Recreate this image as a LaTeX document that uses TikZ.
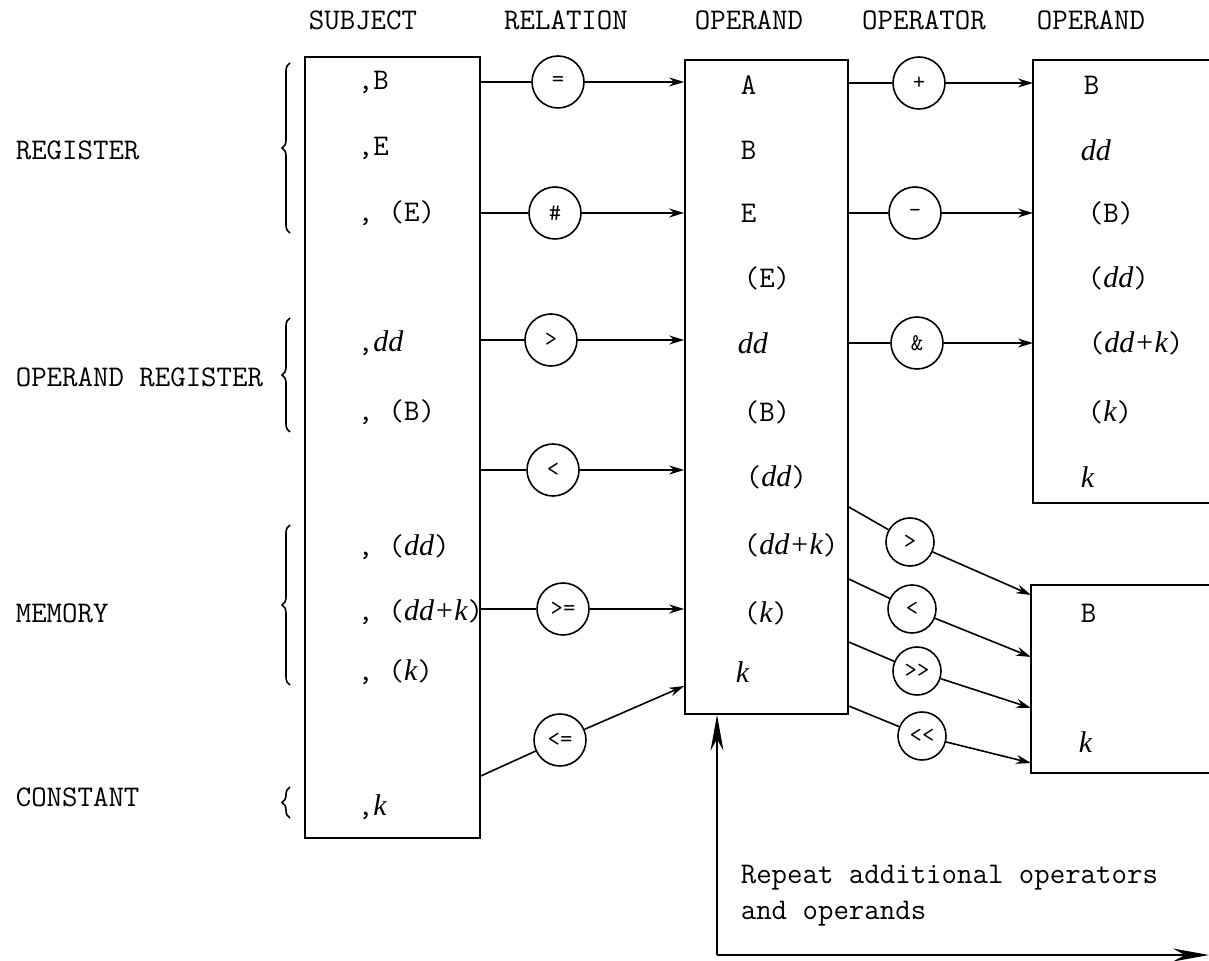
\documentclass[tikz,border=0pt]{standalone}
\usepackage{fontspec}
\newfontfamily\serfont{Liberation Serif}
\usetikzlibrary{arrows.meta,decorations.pathreplacing}
\newcommand{\ivar}[1]{{\serfont\itshape #1}}

\begin{document}
\begin{tikzpicture}[x=0.5pt, y=-0.5pt, line width=0.8pt,
  font=\ttfamily\fontsize{15}{18}\selectfont,
  box/.style={draw, rectangle, inner sep=0pt},
  item/.style={anchor=west, inner sep=0pt},
  hdr/.style={inner sep=0pt},
  rel/.style={circle, draw, fill=white, minimum size=26pt, inner sep=0pt,
              font=\ttfamily\fontsize{12}{14}\selectfont},
  opr/.style={rel, minimum size=24pt},
  flow/.style={-{Stealth[length=7.5pt, width=4.5pt]}},  % into an operand
  back/.style={-{Stealth[length=18pt, width=6.5pt]}},   % repeat loop
  grp/.style={decorate, decoration={brace, amplitude=4pt}},
]
\useasboundingbox (0,0) rectangle (1209,961);

% Column headers
\node[hdr] (h-subj) at (363,20)  {SUBJECT};
\node[hdr] (h-rel)  at (566,20)  {RELATION};
\node[hdr] (h-opd)  at (749,20)  {OPERAND};
\node[hdr] (h-opr)  at (924,20)  {OPERATOR};
\node[hdr] (h-opd2) at (1091,20) {OPERAND};

% Boxes
\node[box, minimum width=87.5pt, minimum height=390.5pt] (subj) at (392.5,447.5) {};
\node[box, minimum width=81.5pt, minimum height=327pt]   (op1)  at (766.5,387)   {};
\draw (1209,60) -| (1033,503) -- (1209,503);   % second operand, open to the right
\draw (1209,585) -| (1031,773) -- (1209,773);  % shift operand, open to the right

% Left hand groups
\node[item] (l-reg)  at (15,150) {REGISTER};
\node[item] (l-oreg) at (15,377) {OPERAND REGISTER};
\node[item] (l-mem)  at (15,613) {MEMORY};
\node[item] (l-con)  at (15,797) {CONSTANT};
\draw[grp] (290,233) -- (290,63);
\draw[grp] (290,432) -- (290,318);
\draw[grp] (290,685) -- (290,525);
\draw[grp] (290,818) -- (290,787);

% Subject entries
\node[item] (s1) at (357,82)  {,B};
\node[item] (s2) at (357,148) {,E};
\node[item] (s3) at (357,213) {, (E)};
\node[item] (s4) at (357,343) {,\ivar{dd}};
\node[item] (s5) at (357,412) {, (B)};
\node[item] (s6) at (357,547) {, (\ivar{dd})};
\node[item] (s7) at (357,612) {, (\ivar{dd+k})};
\node[item] (s8) at (357,672) {, (\ivar{k})};
\node[item] (s9) at (357,807) {,\ivar{k}};

% First operand entries
\node[item] (a1)  at (740,85)  {A};
\node[item] (a2)  at (740,150) {B};
\node[item] (a3)  at (740,213) {E};
\node[item] (a4)  at (743,278) {(E)};
\node[item] (a5)  at (737,343) {\ivar{dd}};
\node[item] (a6)  at (743,412) {(B)};
\node[item] (a7)  at (745,477) {(\ivar{dd})};
\node[item] (a8)  at (743,545) {(\ivar{dd+k})};
\node[item] (a9)  at (743,613) {(\ivar{k})};
\node[item] (a10) at (735,672) {\ivar{k}};

% Second operand entries
\node[item] (b1) at (1083,85)  {B};
\node[item] (b2) at (1080,150) {\ivar{dd}};
\node[item] (b3) at (1087,213) {(B)};
\node[item] (b4) at (1087,278) {(\ivar{dd})};
\node[item] (b5) at (1088,343) {(\ivar{dd+k})};
\node[item] (b6) at (1087,412) {(\ivar{k})};
\node[item] (b7) at (1080,477) {\ivar{k}};
\node[item] (c1) at (1080,613) {B};
\node[item] (c2) at (1078,742) {\ivar{k}};

% Relations
\node[rel] (eq) at (558,82)  {=};
\node[rel] (ne) at (555,213) {\#};
\node[rel] (gt) at (551,340) {>};
\node[rel] (lt) at (553,470) {<};
\node[rel] (ge) at (563,609) {>=};
\node[rel] (le) at (560,740) {<=};
\draw (subj.east |- eq) -- (eq);  \draw[flow] (eq) -- (op1.west |- eq);
\draw (subj.east |- ne) -- (ne);  \draw[flow] (ne) -- (op1.west |- ne);
\draw (subj.east |- gt) -- (gt);  \draw[flow] (gt) -- (op1.west |- gt);
\draw (subj.east |- lt) -- (lt);  \draw[flow] (lt) -- (op1.west |- lt);
\draw (subj.east |- ge) -- (ge);  \draw[flow] (ge) -- (op1.west |- ge);
\draw (subj.east |- 0,776) -- (le);  \draw[flow] (le) -- (op1.west |- 0,686);

% Operators
\coordinate (op2w) at (1033,0);
\node[rel] (plus)  at (919,83)  {+};
\node[rel] (minus) at (915,213) {-};
\node[rel] (amp)   at (917,343) {\&};
\draw (op1.east |- plus) -- (plus);    \draw[flow] (plus) -- (op2w |- plus);
\draw (op1.east |- minus) -- (minus);  \draw[flow] (minus) -- (op2w |- minus);
\draw (op1.east |- amp) -- (amp);      \draw[flow] (amp) -- (op2w |- amp);

% Shift operators
\coordinate (op3w) at (1031,0);
\node[opr] (shgt) at (910,542) {>};
\node[opr] (shlt) at (912,609) {<};
\node[opr] (shr)  at (917,671) {>\kern0pt>};
\node[opr] (shl)  at (922,736) {<\kern0pt<};
\draw (op1.east |- 0,507) -- (shgt);  \draw[flow] (shgt) -- (op3w |- 0,595);
\draw (op1.east |- 0,579) -- (shlt);  \draw[flow] (shlt) -- (op3w |- 0,657);
\draw (op1.east |- 0,642) -- (shr);   \draw[flow] (shr) -- (op3w |- 0,708);
\draw (op1.east |- 0,706) -- (shl);   \draw[flow] (shl) -- (op3w |- 0,763);

% Repeat loop
\coordinate (rep) at (717,955);
\coordinate (rep-end) at (1209,955);
\draw[back] (rep) -- (rep |- op1.south);
\draw[back] (rep) -- (rep-end);
\node[item, align=left, anchor=north west] (rep-txt) at (740,864)
  {Repeat additional operators\\and operands};

\end{tikzpicture}
\end{document}
